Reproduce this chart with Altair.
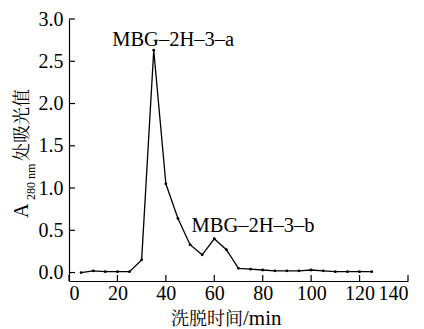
import altair as alt
import pandas as pd

# data
time_min = [5, 10, 15, 20, 25, 30, 35, 40, 45, 50, 55, 60, 65, 70, 75, 80, 85, 90, 95, 100, 105, 110, 115, 120, 125]
absorb = [0.00, 0.02, 0.01, 0.01, 0.01, 0.15, 2.63, 1.05, 0.64, 0.33, 0.21, 0.40, 0.27, 0.05, 0.04, 0.03, 0.02, 0.02, 0.02, 0.03, 0.02, 0.01, 0.01, 0.01, 0.01]
x_ticks = [0, 20, 40, 60, 80, 100, 120, 140]
y_ticks = [0.0, 0.5, 1.0, 1.5, 2.0, 2.5, 3.0]
peak_labels = ["MBG–2H–3–a", "MBG–2H–3–b"]
peak_label_x = [43, 76]
peak_label_y = [2.75, 0.55]

W, H = 339, 262
FONT = "Liberation Serif"
CJK = "Noto Serif CJK SC"

df = pd.DataFrame({"t": time_min, "a": absorb})
xt = pd.DataFrame({"v": x_ticks})
yt = pd.DataFrame({"v": y_ticks})
lab = pd.DataFrame({"x": peak_label_x, "y": peak_label_y, "txt": peak_labels})

xs = alt.Scale(domain=[0, 140], nice=False, zero=False)
ys = alt.Scale(domain=[-0.1, 3.0], nice=False, zero=False)

xaxis = alt.Axis(values=x_ticks, format="d", grid=False, ticks=False, title=None,
                 labelFont=FONT, labelFontSize=20, labelColor="black", labelPadding=2,
                 domainColor="black", domainWidth=1.2)
yaxis = alt.Axis(values=y_ticks, format=".1f", grid=False, ticks=False, title=None,
                 labelFont=FONT, labelFontSize=20, labelColor="black", labelPadding=6,
                 domainColor="black", domainWidth=1.2)

line = alt.Chart(df).mark_line(color="black", strokeWidth=1.3).encode(
    x=alt.X("t:Q", scale=xs, axis=xaxis),
    y=alt.Y("a:Q", scale=ys, axis=yaxis),
)
pts = alt.Chart(df).mark_point(filled=True, color="black", size=8, opacity=1).encode(
    x=alt.X("t:Q", scale=xs), y=alt.Y("a:Q", scale=ys)
)
xtick = alt.Chart(xt).mark_rule(color="black", strokeWidth=1.2).encode(
    x=alt.X("v:Q", scale=xs), y=alt.value(H), y2=alt.value(H - 6)
)
ytick = alt.Chart(yt).mark_rule(color="black", strokeWidth=1.2).encode(
    y=alt.Y("v:Q", scale=ys), x=alt.value(0), x2=alt.value(6)
)
labels = alt.Chart(lab).mark_text(font=FONT, fontSize=20.5, color="black", baseline="middle", align="center").encode(
    x=alt.X("x:Q", scale=xs), y=alt.Y("y:Q", scale=ys), text="txt:N"
)

title_parts = pd.DataFrame({"k": [0]})
ya = alt.Chart(title_parts).mark_text(text="A", font=FONT, fontSize=20, angle=270, align="left", baseline="middle", color="black").encode(
    x=alt.value(-47), y=alt.value(199))
ysub = alt.Chart(title_parts).mark_text(text="280 nm", font=FONT, fontSize=12, angle=270, align="left", baseline="middle", color="black").encode(
    x=alt.value(-38), y=alt.value(181))
ycn = alt.Chart(title_parts).mark_text(text="处吸光值", font=CJK, fontSize=18, angle=270, align="left", baseline="middle", color="black").encode(
    x=alt.value(-46), y=alt.value(142))
xtitle_cn = alt.Chart(title_parts).mark_text(text="洗脱时间", font=CJK, fontSize=18, align="right", baseline="middle", color="black").encode(
    x=alt.value(174), y=alt.value(301))
xtitle_en = alt.Chart(title_parts).mark_text(text="/min", font=FONT, fontSize=21, align="left", baseline="middle", color="black").encode(
    x=alt.value(174), y=alt.value(300))

chart = alt.layer(line, pts, xtick, ytick, labels, ya, ysub, ycn, xtitle_cn, xtitle_en).properties(
    width=W, height=H,
    autosize=alt.AutoSizeParams(type="none"),
    padding={"left": 61, "top": 11, "right": 8, "bottom": 48},
    background="white",
).configure_view(stroke=None)

chart.save("out.html", embed_options={"renderer": "svg", "actions": False})
